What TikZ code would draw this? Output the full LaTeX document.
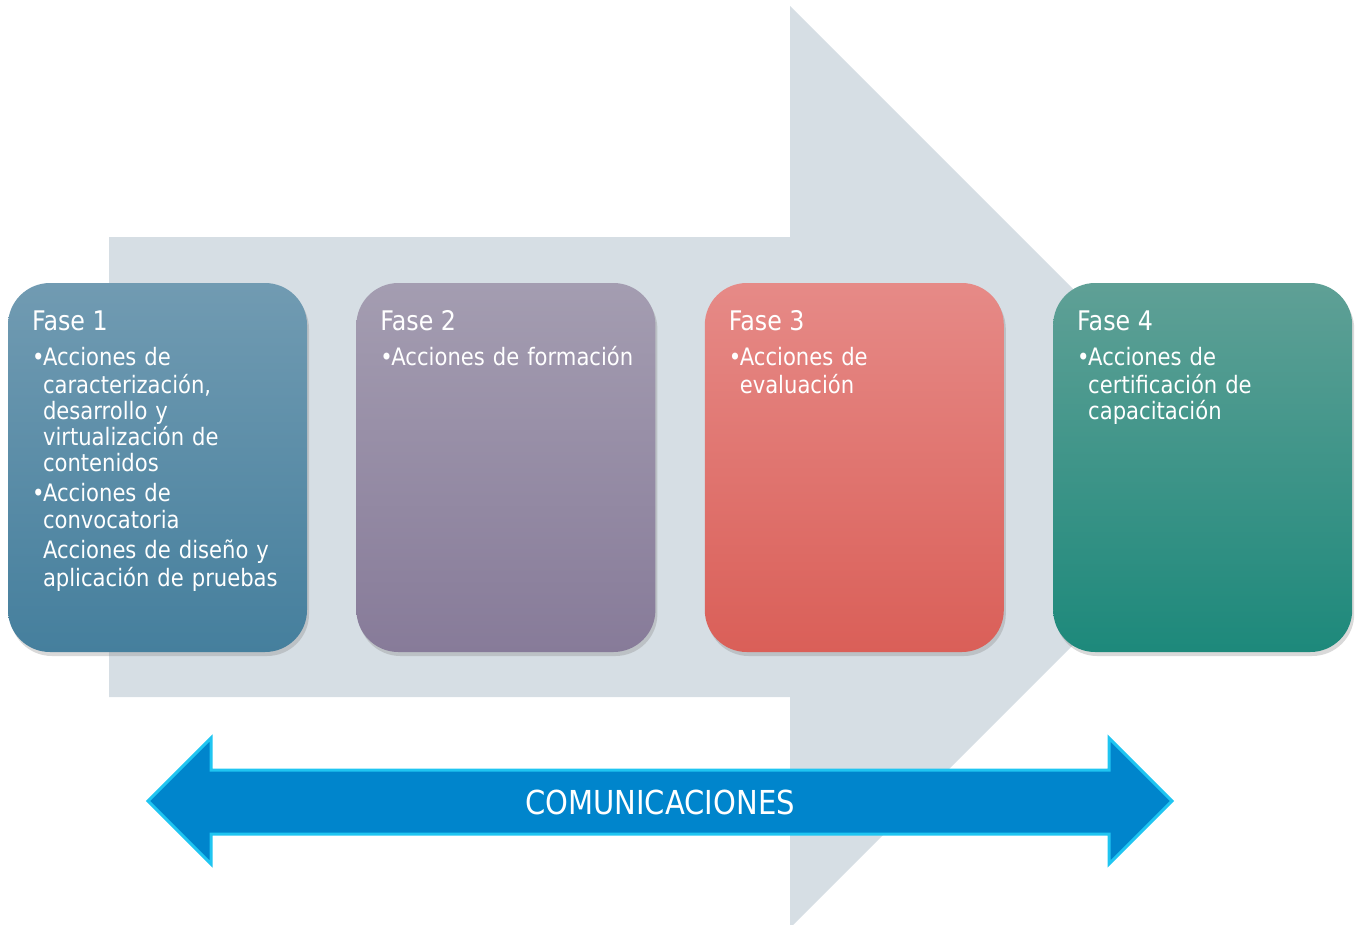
\documentclass[tikz,border=0pt]{standalone}
\usepackage{fontspec}
\setmainfont{DejaVu Sans}[FakeStretch=0.88]
\setsansfont{DejaVu Sans}[FakeStretch=0.88]
\usetikzlibrary{positioning, shadows}

\definecolor{flechagris}{HTML}{D6DEE4}
\definecolor{faseunoA}{HTML}{719BB2}
\definecolor{faseunoB}{HTML}{457F9D}
\definecolor{fasedosA}{HTML}{A49DB1}
\definecolor{fasedosB}{HTML}{877B99}
\definecolor{fasetresA}{HTML}{E68A87}
\definecolor{fasetresB}{HTML}{DA5F58}
\definecolor{fasecuatroA}{HTML}{5FA096}
\definecolor{fasecuatroB}{HTML}{1D897B}
\definecolor{comazul}{HTML}{0085CC}
\definecolor{comborde}{HTML}{1FC5F1}

\newcommand{\faseitem}[1]{\par\hangindent=11pt\hangafter=1\noindent\makebox[11pt][l]{\textbullet}\strut#1\par}
\newcommand{\faseplano}[1]{\par\hangindent=11pt\hangafter=0\noindent\strut#1\par}

\begin{document}
\begin{tikzpicture}[font=\sffamily, x=1pt, y=-1pt]
\tikzstyle{fase}=[%
rounded corners=42pt,
minimum width=299pt,
minimum height=369pt,
inner sep=0pt, shading=axis,
drop shadow={shadow xshift=2pt, shadow yshift=-4pt, opacity=0.3}
]
\tikzstyle{fasetitulo}=[text=white, inner sep=0pt, anchor=base west, font=\sffamily\fontsize{27}{30}\selectfont]
\tikzstyle{fasetexto}=[text=white, inner sep=0pt, text width=280pt, align=left,
  font={\sffamily\fontsize{24}{26}\selectfont\setlength{\parskip}{4pt}}]
\tikzstyle{comflecha}=[fill=comazul, draw=comborde, line width=3pt, line join=miter]
   \useasboundingbox (0,0) rectangle (1359,924);
   \fill[flechagris] (109,237) -- (790,237) -- (790,6) -- (1251,467) -- (790,928) -- (790,697) -- (109,697) -- cycle;
   \node[fase, top color=faseunoA, bottom color=faseunoB] (f1) at (157.5,467.5) {};
   \node[fase, top color=fasedosA, bottom color=fasedosB, right=49pt of f1] (f2) {};
   \node[fase, top color=fasetresA, bottom color=fasetresB, right=49pt of f2] (f3) {};
   \node[fase, top color=fasecuatroA, bottom color=fasecuatroB, right=49pt of f3] (f4) {};
   \node[below right=48pt and 24pt of f1.north west, fasetitulo] (t1) {Fase 1};
   \node[below right=48pt and 24pt of f2.north west, fasetitulo] (t2) {Fase 2};
   \node[below right=48pt and 24pt of f3.north west, fasetitulo] (t3) {Fase 3};
   \node[below right=48pt and 24pt of f4.north west, fasetitulo] (t4) {Fase 4};
   \node[below right=4pt and 0pt of t1.base west, fasetexto] (b1) {\faseitem{Acciones de\newline caracterización,\newline desarrollo y\newline virtualización de\newline contenidos}\faseitem{Acciones de\newline convocatoria}\faseplano{Acciones de diseño y\newline aplicación de pruebas}};
   \node[below right=4pt and 0pt of t2.base west, fasetexto] (b2) {\faseitem{Acciones de formación}};
   \node[below right=4pt and 0pt of t3.base west, fasetexto] (b3) {\faseitem{Acciones de\newline evaluación}};
   \node[below right=4pt and 0pt of t4.base west, fasetexto] (b4) {\faseitem{Acciones de\newline certificación de\newline capacitación}};
   \draw[comflecha] (148,801) -- (211,738) -- (211,770) -- (1109,770) -- (1109,738) -- (1172,801) -- (1109,864) -- (1109,834) -- (211,834) -- (211,864) -- cycle;
   \node[text=white, inner sep=0pt, font=\sffamily\fontsize{33}{36}\selectfont] (com) at (660,802) {COMUNICACIONES};
\end{tikzpicture}
\end{document}
